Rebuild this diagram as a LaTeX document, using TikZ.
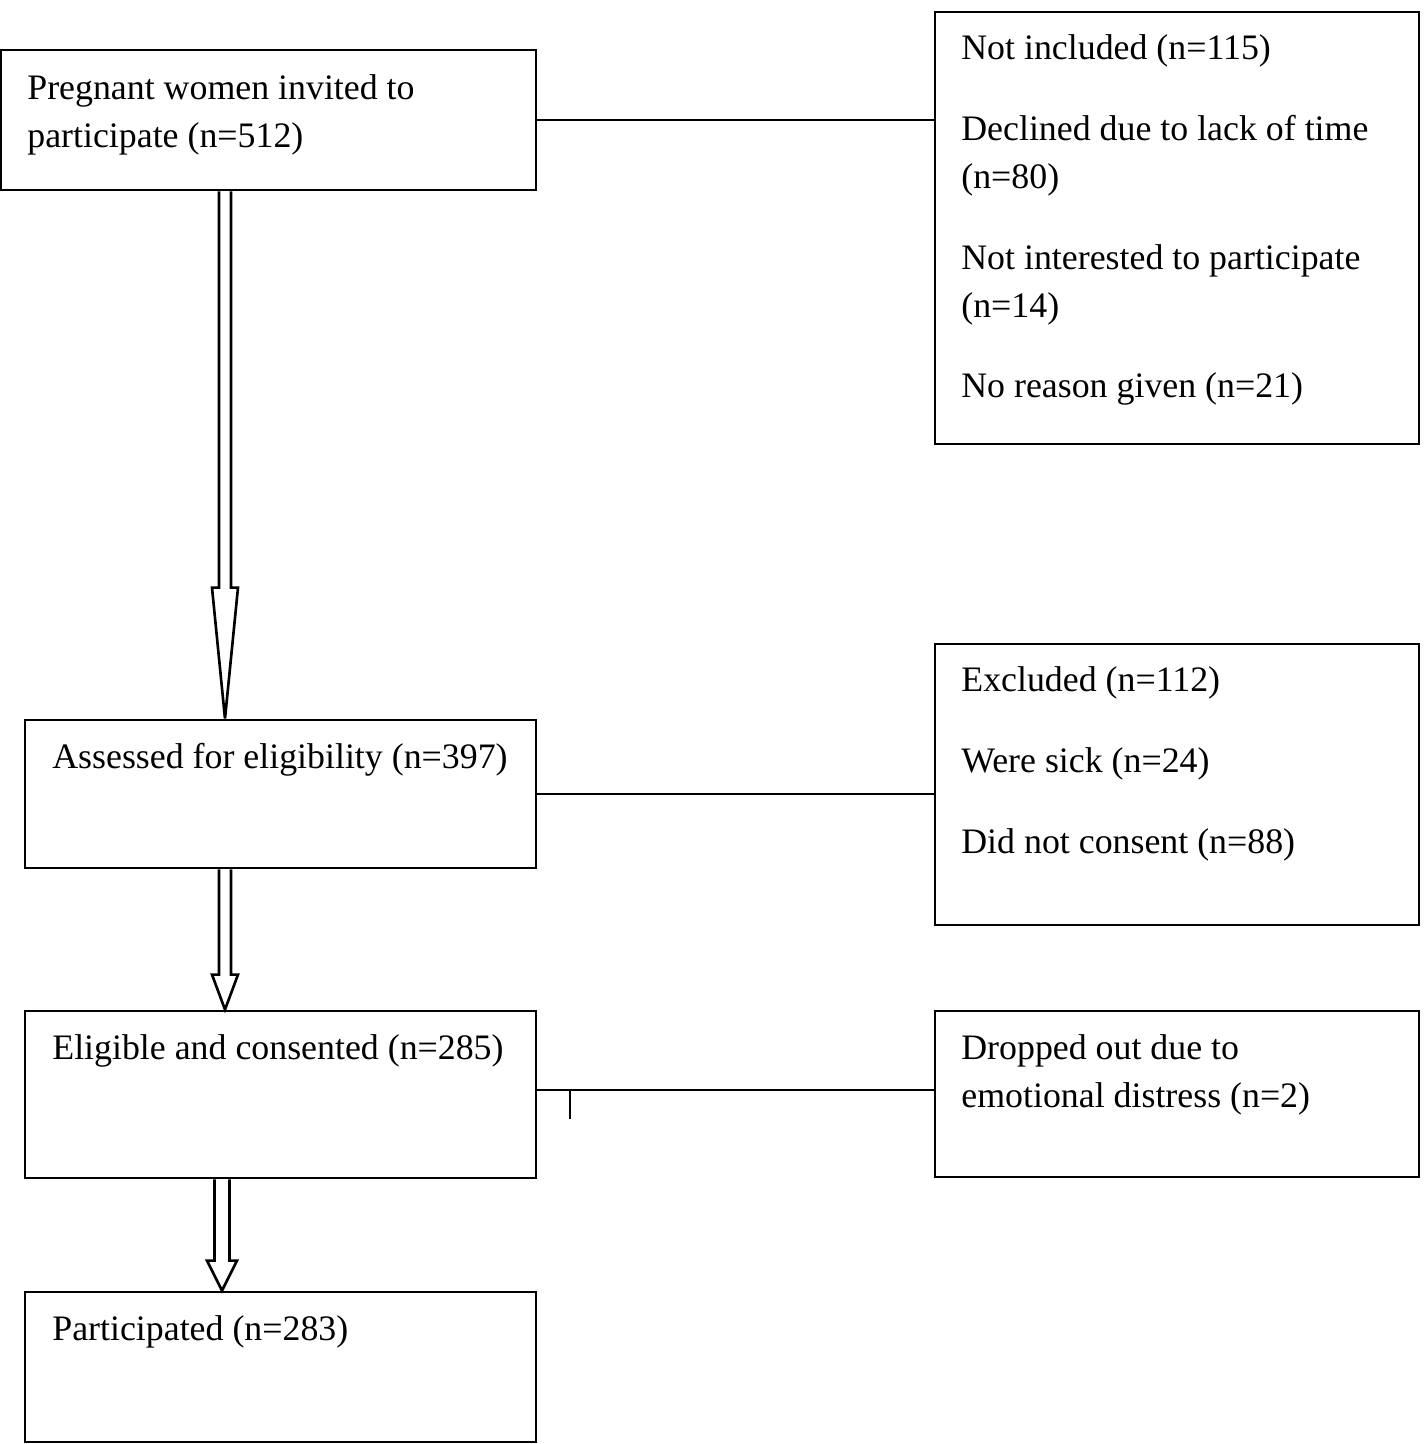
\documentclass[tikz,border=0pt]{standalone}
\usepackage{fontspec}
\setmainfont{Liberation Serif}
\usetikzlibrary{fit}
\usetikzlibrary{calc}
\tikzset{
  box/.style={draw, line width=1.6pt, inner sep=0pt},
  txt/.style={anchor=base west, inner sep=0pt, font=\fontsize{20.4}{27}\selectfont},
  link/.style={line width=1.3pt},
  hollow/.style={line width=1.5pt, line join=miter}
}
% hollow down arrow: from, to, head length, shaft half width, head half width
\newcommand{\hollowdown}[5]{%
  \draw[hollow] ($(#1)+(-#4,0)$) -- ($(#2)+(-#4,-#3)$) -- ($(#2)+(-#5,-#3)$) -- (#2)
    -- ($(#2)+(#5,-#3)$) -- ($(#2)+(#4,-#3)$) -- ($(#1)+(#4,0)$);}

\begin{document}
\begin{tikzpicture}[x=0.02cm, y=-0.02cm]
    \useasboundingbox (0,0) rectangle (1424,1444);

    % left column
    \node[box, fit={(1,50) (536,190)}] (invite) {};
    \node[box, fit={(25,720) (536,868)}] (assess) {};
    \node[box, fit={(25,1011) (536,1178)}] (elig) {};
    \node[box, fit={(25,1292) (536,1442)}] (part) {};
    % right column
    \node[box, fit={(935,12) (1419,444)}] (notinc) {};
    \node[box, fit={(935,644) (1419,925)}] (excl) {};
    \node[box, fit={(935,1011) (1419,1177)}] (drop) {};

    \node[txt] (invite1) at (27,99) {Pregnant women invited to};
    \node[txt] (invite2) at (27,147) {participate (n=512)};
    \node[txt] (assess1) at (52,768) {Assessed for eligibility (n=397)};
    \node[txt] (elig1) at (52,1059) {Eligible and consented (n=285)};
    \node[txt] (part1) at (52,1340) {Participated (n=283)};

    \node[txt] (notinc1) at (961,59) {Not included (n=115)};
    \node[txt] (notinc2) at (961,140) {Declined due to lack of time};
    \node[txt] (notinc3) at (961,188) {(n=80)};
    \node[txt] (notinc4) at (961,269) {Not interested to participate};
    \node[txt] (notinc5) at (961,317) {(n=14)};
    \node[txt] (notinc6) at (961,397) {No reason given (n=21)};
    \node[txt] (excl1) at (961,691) {Excluded (n=112)};
    \node[txt] (excl2) at (961,772) {Were sick (n=24)};
    \node[txt] (excl3) at (961,853) {Did not consent (n=88)};
    \node[txt] (drop1) at (961,1059) {Dropped out due to};
    \node[txt] (drop2) at (961,1107) {emotional distress (n=2)};

    % side links
    \draw[link] (invite.east) -- (invite.east -| notinc.west);
    \draw[link] (assess.east) -- (assess.east -| excl.west);
    \draw[link] (536,1090) coordinate (dropfrom) -- (dropfrom -| drop.west);
    \coordinate (tick) at (570,1090);
    \draw[link] (tick) -- ++(0,29);

    % down arrows
    \coordinate (a1) at (225,0 |- invite.south);
    \coordinate (b1) at (225,0 |- assess.north);
    \coordinate (a2) at (225,0 |- assess.south);
    \coordinate (b2) at (225,0 |- elig.north);
    \coordinate (a3) at (222,0 |- elig.south);
    \coordinate (b3) at (222,0 |- part.north);
    \hollowdown{a1}{b1}{131}{6}{13}
    \hollowdown{a2}{b2}{35}{6}{13}
    \hollowdown{a3}{b3}{30}{7.5}{15}
\end{tikzpicture}
\end{document}
